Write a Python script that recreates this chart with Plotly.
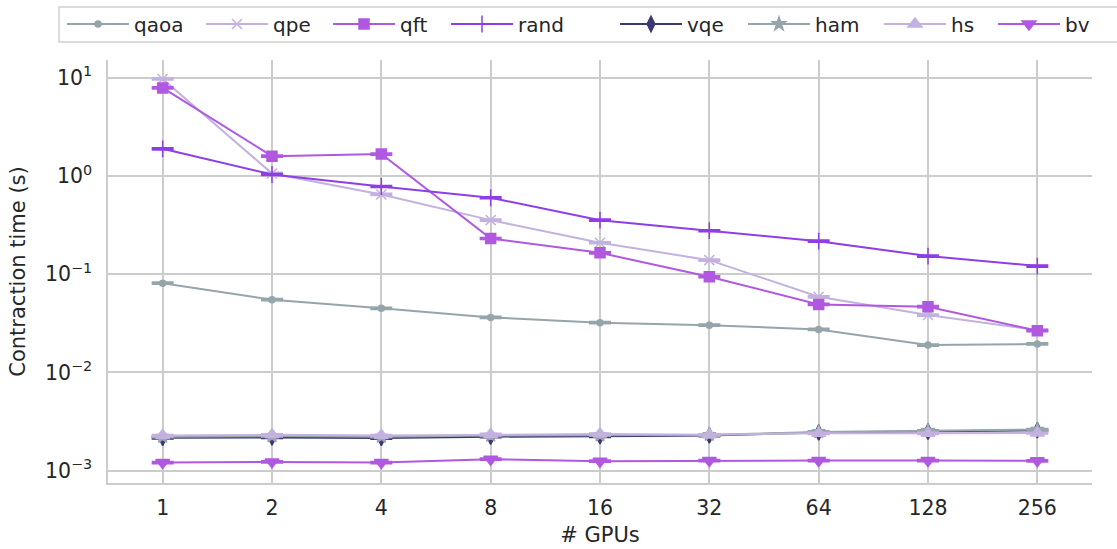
import plotly.graph_objects as go

gpus = ["1", "2", "4", "8", "16", "32", "64", "128", "256"]

qaoa = [0.081, 0.055, 0.045, 0.0363, 0.0321, 0.0303, 0.0274, 0.0190, 0.0195]
qpe = [9.7, 1.06, 0.648, 0.355, 0.209, 0.139, 0.0589, 0.0384, 0.027]
qft = [7.87, 1.59, 1.67, 0.231, 0.165, 0.0942, 0.0493, 0.0467, 0.0266]
rand = [1.89, 1.035, 0.781, 0.600, 0.355, 0.277, 0.217, 0.153, 0.121]
vqe = [0.00216, 0.00218, 0.00215, 0.00222, 0.00224, 0.00228, 0.00245, 0.00250, 0.00258]
ham = [0.00222, 0.00225, 0.00222, 0.00228, 0.00230, 0.00232, 0.00248, 0.00255, 0.00262]
hs = [0.00228, 0.00232, 0.00228, 0.00234, 0.00236, 0.00232, 0.00240, 0.00240, 0.00242]
bv = [0.00121, 0.00123, 0.00121, 0.00131, 0.00125, 0.00127, 0.00127, 0.00127, 0.00126]

series = [
    ("qaoa", qaoa, "#95a5ab", "circle", 6),
    ("qpe", qpe, "#c3b1e0", "x-thin-open", 10),
    ("qft", qft, "#b158e0", "square", 10),
    ("rand", rand, "#8f3ee6", "cross-thin-open", 12),
    ("vqe", vqe, "#3b3970", "diamond-tall", 11),
    ("ham", ham, "#95a5ab", "star", 10),
    ("hs", hs, "#c3b1e0", "triangle-up", 12),
    ("bv", bv, "#b158e0", "triangle-down", 12),
]

# legend entry left edges (pixels) in the reference
legend_px = [67, 206, 333, 451, 620, 748, 884, 998]

L, R, T, B = 108, 25, 60, 66
W, H = 1117, 549
pw, ph = W - L - R, H - T - B

fig = go.Figure()
layout_legends = {}
for i, ((name, vals, color, sym, size), lx) in enumerate(zip(series, legend_px)):
    key = "legend" if i == 0 else f"legend{i + 1}"
    fig.add_trace(go.Scatter(
        x=gpus, y=vals, name=name, mode="lines+markers",
        line=dict(color=color, width=2),
        marker=dict(symbol=sym, size=size, color=color,
                    line=dict(color=color, width=1.5)),
        error_y=dict(type="percent", value=2, width=11, thickness=2, color=color),
        legend=key,
    ))
    layout_legends[key] = dict(
        x=(lx - 5 - L) / pw, xanchor="left",
        y=1 + (T - 24) / ph, yanchor="middle",
        bgcolor="rgba(0,0,0,0)", borderwidth=0, itemwidth=62,
        font=dict(size=20, color="#262626", family="DejaVu Sans"),
    )

tickvals = [1e-3, 1e-2, 1e-1, 1, 10]
ticktext = ["10<sup>−3</sup>", "10<sup>−2</sup>", "10<sup>−1</sup>", "10<sup>0</sup>", "10<sup>1</sup>"]

fig.add_shape(type="rect", xref="paper", yref="paper",
              x0=(59 - L) / pw, x1=(1125 - L) / pw,
              y0=1 + (T - 42) / ph, y1=1 + (T - 7) / ph,
              line=dict(color="#d0d0d0", width=1.5), fillcolor="white", layer="below")

fig.update_layout(
    width=W, height=H,
    margin=dict(l=L, r=R, t=T, b=B, autoexpand=False),
    paper_bgcolor="white", plot_bgcolor="white",
    font=dict(family="DejaVu Sans", size=20, color="#262626"),
    showlegend=True,
    xaxis=dict(type="category", range=[-0.5, 8.5], showgrid=True,
               gridcolor="#cccccc", gridwidth=1.5, showline=True,
               linecolor="#cccccc", linewidth=1.5, ticks="", automargin=False,
               title=dict(text="# GPUs", font=dict(size=21), standoff=8),
               tickfont=dict(size=20.5), ticklabelstandoff=6, zeroline=False),
    yaxis=dict(type="log", range=[-3.125, 1.18], showgrid=True,
               gridcolor="#cccccc", gridwidth=1.5, showline=True,
               linecolor="#cccccc", linewidth=1.5, ticks="", automargin=False,
               tickvals=tickvals, ticktext=ticktext,
               title=dict(text="Contraction time (s)", font=dict(size=21), standoff=14),
               tickfont=dict(size=20.5), ticklabelstandoff=10, zeroline=False),
    **layout_legends,
)

fig.write_html("out.html")
